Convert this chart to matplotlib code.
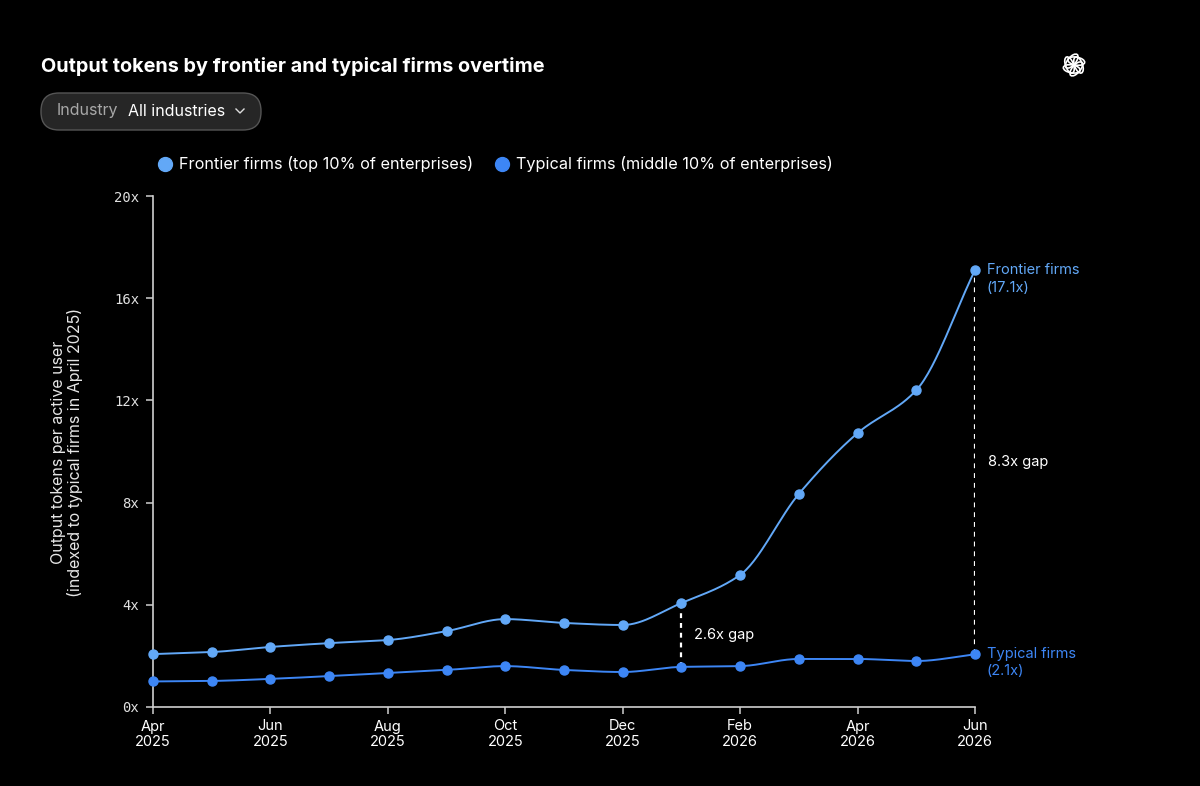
import numpy as np
import matplotlib.pyplot as plt
from matplotlib.patches import FancyBboxPatch, Ellipse

months = ["Apr\n2025", "May\n2025", "Jun\n2025", "Jul\n2025", "Aug\n2025", "Sep\n2025",
          "Oct\n2025", "Nov\n2025", "Dec\n2025", "Jan\n2026", "Feb\n2026", "Mar\n2026",
          "Apr\n2026", "May\n2026", "Jun\n2026"]
frontier = [2.07, 2.15, 2.35, 2.5, 2.62, 2.97, 3.44, 3.29, 3.21, 4.07, 5.17, 8.34, 10.72, 12.4, 17.1]
typical = [1.0, 1.02, 1.1, 1.21, 1.33, 1.45, 1.6, 1.45, 1.37, 1.57, 1.6, 1.88, 1.88, 1.8, 2.06]
y_ticks = [0, 4, 8, 12, 16, 20]
gap_labels = {9: "2.6x gap", 14: "8.3x gap"}

FRONT_C = "#62a8f7"
TYP_C = "#3d86f5"
plt.rcParams['font.family'] = ['Inter', 'DejaVu Sans']


def monotone(x, y, n=30):
    # monotone cubic (Fritsch-Carlson), like d3 curveMonotoneX
    x = np.asarray(x, float)
    y = np.asarray(y, float)
    h = np.diff(x)
    d = np.diff(y) / h
    m = np.zeros_like(y)
    m[0], m[-1] = d[0], d[-1]
    for k in range(1, len(x) - 1):
        if d[k - 1] * d[k] <= 0:
            m[k] = 0
        else:
            w1 = 2 * h[k] + h[k - 1]
            w2 = h[k] + 2 * h[k - 1]
            m[k] = (w1 + w2) / (w1 / d[k - 1] + w2 / d[k])
    xs, ys = [], []
    for k in range(len(x) - 1):
        t = np.linspace(0, 1, n, endpoint=False)
        h00 = 2 * t**3 - 3 * t**2 + 1
        h10 = t**3 - 2 * t**2 + t
        h01 = -2 * t**3 + 3 * t**2
        h11 = t**3 - t**2
        xs.append(x[k] + t * h[k])
        ys.append(h00 * y[k] + h10 * h[k] * m[k] + h01 * y[k + 1] + h11 * h[k] * m[k + 1])
    xs.append([x[-1]])
    ys.append([y[-1]])
    return np.concatenate(xs), np.concatenate(ys)


x = np.arange(len(months))

fig = plt.figure(figsize=(12, 7.86), dpi=100, facecolor='black')

# overlay in pixel coords for the header bits
hud = fig.add_axes([0, 0, 1, 1])
hud.set_xlim(0, 1200)
hud.set_ylim(786, 0)
hud.axis('off')

ax = fig.add_axes([153 / 1200, 1 - 707 / 786, 822 / 1200, 511 / 786])
ax.set_facecolor('none')
ax.set_xlim(0, 14)
ax.set_ylim(0, 20)

for vals, col in [(frontier, FRONT_C), (typical, TYP_C)]:
    sx, sy = monotone(x, vals)
    ax.plot(sx, sy, color=col, lw=1.4, clip_on=False, zorder=3)
    ax.plot(x, vals, 'o', color=col, ms=6.5, clip_on=False, zorder=4)

# gap markers
for i, lab in gap_labels.items():
    ax.plot([x[i], x[i]], [typical[i], frontier[i]], color='white', lw=1.6,
            ls=(0, (2.2, 2.2)), zorder=2)
    ax.text(x[i] + 0.22, (typical[i] + frontier[i]) / 2, lab,
            color='white', fontsize=10.5, va='center', ha='left')

ax.text(x[-1] + 0.2, frontier[-1], "Frontier firms", color=FRONT_C,
        fontsize=10.5, va='center', ha='left')
ax.text(x[-1] + 0.2, frontier[-1] - 0.7, "(17.1x)", color=FRONT_C,
        fontsize=10.5, va='center', ha='left')
ax.text(x[-1] + 0.2, typical[-1], "Typical firms", color=TYP_C,
        fontsize=10.5, va='center', ha='left')
ax.text(x[-1] + 0.2, typical[-1] - 0.67, "(2.1x)", color=TYP_C,
        fontsize=10.5, va='center', ha='left')

for s in ['top', 'right']:
    ax.spines[s].set_visible(False)
for s in ['left', 'bottom']:
    ax.spines[s].set_color('#cfcfcf')
    ax.spines[s].set_linewidth(1.2)

ax.set_xticks(x[::2])
ax.set_xticklabels(months[::2], fontsize=10.5, color='white', linespacing=1.1)
ax.set_yticks(y_ticks)
ax.set_yticklabels([f"{v}x" for v in y_ticks], fontsize=10, color='#e0e0e0',
                   family='DejaVu Sans Mono')
ax.tick_params(axis='both', colors='#cfcfcf', length=5, width=1.1)
ax.tick_params(axis='y', pad=5, labelcolor='#e0e0e0')
ax.tick_params(axis='x', pad=4, labelcolor='white')

hud.text(67, 452,
         "Output tokens per active user\n(indexed to typical firms in April 2025)",
         rotation=90, ha='center', va='center', multialignment='center',
         color='#e6e6e6', fontsize=11.5, linespacing=1.15)

# title
hud.text(41, 66, "Output tokens by frontier and typical firms overtime",
         color='white', fontsize=14.3, fontweight='bold', ha='left', va='center')

# dropdown pill
hud.add_patch(FancyBboxPatch((41, 93), 220, 37,
                             boxstyle="round,pad=0,rounding_size=18",
                             facecolor='#262626', edgecolor='#555555', lw=1.0))
hud.text(57, 111, "Industry", color='#a8a8a8', fontsize=11.5, ha='left', va='center')
hud.text(128, 111, "All industries", color='white', fontsize=11.5, ha='left', va='center')
hud.plot([236, 240, 244], [109, 113, 109], color='#dddddd', lw=1.0)

# legend
legend_items = [("Frontier firms (top 10% of enterprises)", FRONT_C, 165),
                ("Typical firms (middle 10% of enterprises)", TYP_C, 502)]
for lab, col, px in legend_items:
    hud.plot([px], [164], 'o', ms=10, color=col)
    hud.text(px + 14, 164, lab, color='white', fontsize=11.7, ha='left', va='center')

# logo
for k in range(6):
    a = np.deg2rad(k * 60)
    hud.add_patch(Ellipse((1074 + 4.5 * np.cos(a), 65 + 4.5 * np.sin(a)), 17, 8,
                          angle=np.rad2deg(a) + 70, fill=False,
                          edgecolor='white', lw=1.2))

fig.savefig('out.png', dpi=100, facecolor='black')
